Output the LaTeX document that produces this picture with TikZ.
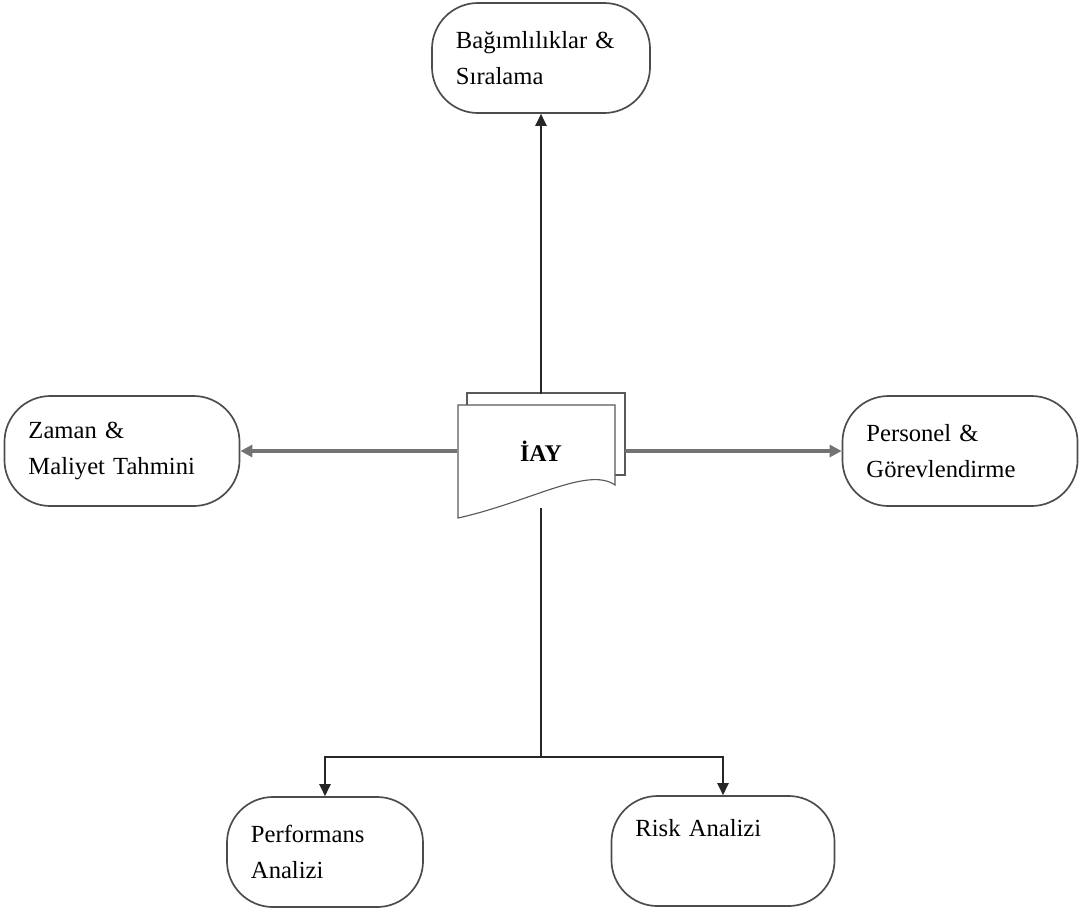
\documentclass[tikz,border=0pt]{standalone}
\usepackage{fontspec}
\setmainfont{Liberation Serif}
\usetikzlibrary{arrows.meta}

\begin{document}
\begin{tikzpicture}[x=0.025cm,y=-0.025cm]
    \tikzstyle{B}=[rectangle,draw=black!70,line width=1.2pt,rounded corners=1.15cm,inner xsep=0.6cm,minimum height=2.75cm,align=left,font=\fontsize{17.5}{25}\selectfont]
    \tikzstyle{A}=[-{Triangle[length=0.3cm,width=0.28cm]},draw=black!85,line width=1.3pt]
    \tikzstyle{H}=[-{Triangle[length=0.3cm,width=0.3cm]},draw=black!55,line width=2.6pt]

   \useasboundingbox (0,0) rectangle (1084,910);

   \draw [black!65,thick,fill=white] (467,393) rectangle (625,475);
   \draw [black!65,thick,fill=white] (458,405) -- (615,405) -- (615,485)
        .. controls (588,466) and (530,502) .. (458,518) -- cycle;

   \node (iay) [minimum width=4.2cm,minimum height=2.85cm,inner sep=0pt,font=\fontsize{17}{20}\selectfont\bfseries] at (541,451) {İAY};

   \node (dep) [B,text width=4.25cm] at (541,58) {Bağımlılıklar \&\\Sıralama};
   \node (zaman) [B,text width=4.675cm] at (122,451) {Zaman \&\\Maliyet Tahmini};
   \node (pers) [B,text width=4.675cm] at (960,451) {Personel \&\\Görevlendirme};
   \node (perf) [B,text width=3.7cm] at (325,852) {Performans\\Analizi};
   \node (risk) [B,text width=4.375cm] at (723,851) {Risk Analizi\\ \strut};

   \coordinate (split) at (541,757);

   \draw [A] (iay.north) -- (dep.south);
   \draw [H] (iay.west) -- (zaman.east);
   \draw [H] (iay.east) -- (pers.west);
   \draw [black!85,line width=1.3pt] (iay.south) -- (split);
   \draw [A] (split) -| (perf.north);
   \draw [A] (split) -| (risk.north);
\end{tikzpicture}
\end{document}
